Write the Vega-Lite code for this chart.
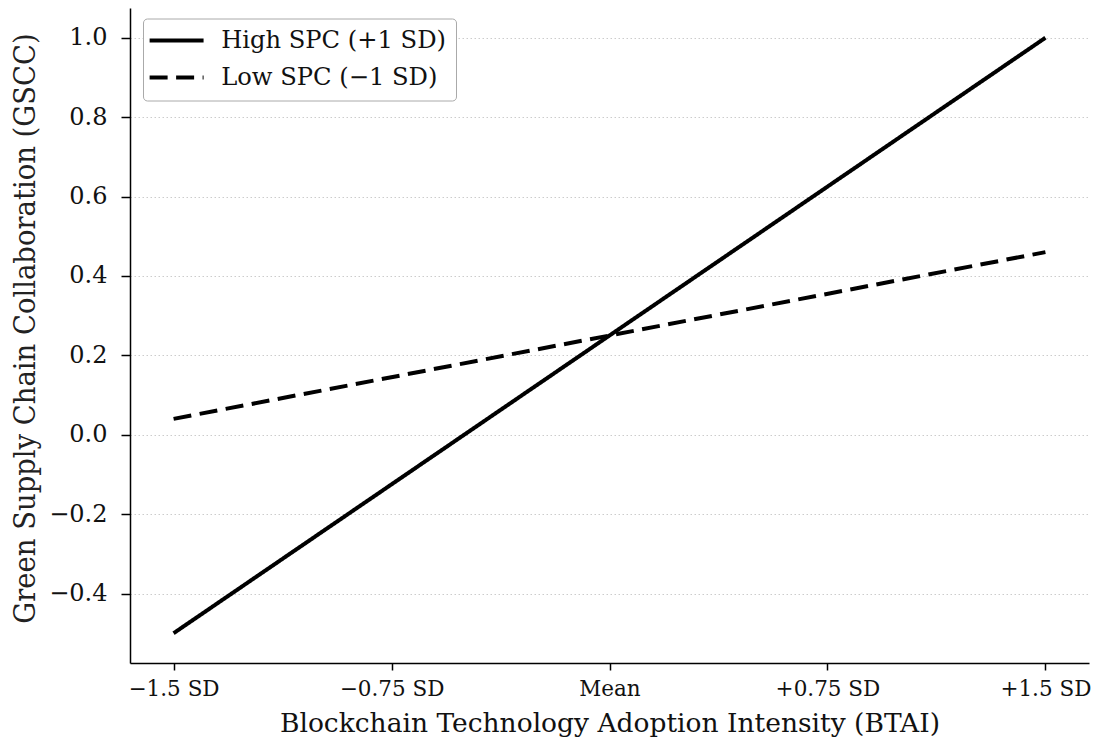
{
  "$schema": "https://vega.github.io/schema/vega-lite/v6.json",
  "width": 959,
  "height": 655,
  "autosize": {"type": "none"},
  "padding": {"left": 130, "top": 8, "right": 7, "bottom": 81},
  "background": "white",
  "config": {
    "view": {"stroke": null},
    "font": "DejaVu Serif"
  },
  "data": {
    "values": [
      {"btai": -1.5, "gscc": -0.5, "group": "High SPC (+1 SD)"},
      {"btai": 1.5, "gscc": 1.0, "group": "High SPC (+1 SD)"},
      {"btai": -1.5, "gscc": 0.04, "group": "Low SPC (−1 SD)"},
      {"btai": 1.5, "gscc": 0.46, "group": "Low SPC (−1 SD)"}
    ]
  },
  "mark": {"type": "line", "color": "black", "strokeWidth": 4, "strokeCap": "butt"},
  "encoding": {
    "x": {
      "field": "btai",
      "type": "quantitative",
      "scale": {"domain": [-1.65, 1.65], "nice": false, "zero": false},
      "axis": {
        "title": "Blockchain Technology Adoption Intensity (BTAI)",
        "values": [-1.5, -0.75, 0, 0.75, 1.5],
        "labelExpr": "datum.value == -1.5 ? '−1.5 SD' : datum.value == -0.75 ? '−0.75 SD' : datum.value == 0 ? 'Mean' : datum.value == 0.75 ? '+0.75 SD' : '+1.5 SD'",
        "grid": false,
        "domainColor": "black",
        "domainWidth": 1.5,
        "tickColor": "black",
        "tickWidth": 1.5,
        "tickSize": 7,
        "labelFont": "DejaVu Serif",
        "labelFontSize": 21.5,
        "labelColor": "#111",
        "labelPadding": 8,
        "labelFlush": false,
        "titleFont": "DejaVu Serif",
        "titleFontSize": 26.5,
        "titleFontWeight": "normal",
        "titleColor": "#111",
        "titlePadding": 11
      }
    },
    "y": {
      "field": "gscc",
      "type": "quantitative",
      "scale": {"domain": [-0.575, 1.075], "nice": false, "zero": false},
      "axis": {
        "title": "Green Supply Chain Collaboration (GSCC)",
        "values": [-0.4, -0.2, 0, 0.2, 0.4, 0.6, 0.8, 1.0],
        "format": ".1f",
        "grid": true,
        "gridColor": "#cccccc",
        "gridDash": [1.5, 2.5],
        "gridWidth": 1,
        "domainColor": "black",
        "domainWidth": 1.5,
        "tickColor": "black",
        "tickWidth": 1.5,
        "tickSize": 9,
        "labelFont": "DejaVu Serif",
        "labelFontSize": 24,
        "labelColor": "#111",
        "labelPadding": 14,
        "labelFlush": false,
        "titleFont": "DejaVu Serif Condensed",
        "titleFontSize": 30.5,
        "titleFontWeight": "normal",
        "titleColor": "#222",
        "titlePadding": 8,
        "titleY": 320
      }
    },
    "strokeDash": {
      "field": "group",
      "type": "nominal",
      "scale": {
        "domain": ["High SPC (+1 SD)", "Low SPC (−1 SD)"],
        "range": [[1, 0], [18, 8.5]]
      },
      "legend": {
        "title": null,
        "orient": "none",
        "legendX": 13,
        "legendY": 10.5,
        "strokeColor": "#aaaaaa",
        "fillColor": "white",
        "cornerRadius": 4,
        "padding": 10,
        "symbolType": "M-1.63,0H4.05",
        "symbolSize": 361,
        "symbolStrokeWidth": 4,
        "symbolStrokeColor": "black",
        "symbolFillColor": "transparent",
        "labelFont": "DejaVu Serif",
        "labelFontSize": 24.2,
        "labelColor": "#111",
        "labelOffset": 44,
        "labelLimit": 400,
        "rowPadding": 12
      }
    }
  }
}
